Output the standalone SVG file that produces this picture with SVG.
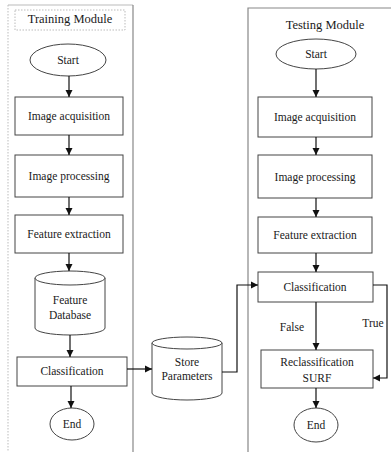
<svg xmlns="http://www.w3.org/2000/svg" width="391" height="452" viewBox="0 0 391 452" font-family="'Liberation Serif', 'Times New Roman', serif">
<defs>
<marker id="ah" markerWidth="8" markerHeight="8" refX="7" refY="4" orient="auto" markerUnits="userSpaceOnUse">
<path d="M0,0.5 L7,4 L0,7.5 Z" fill="#111"/>
</marker>
</defs>
<style>
text{font-family:"Liberation Serif","Times New Roman",serif;font-size:11.5px;fill:#1a1a1a;text-anchor:middle}
.t{font-size:12.5px}
.box{fill:#fff;stroke:#444;stroke-width:1}
.mod{fill:none;stroke:#888;stroke-width:1.2}
.dot{fill:none;stroke:#bbb;stroke-width:1;stroke-dasharray:1.5,1.5}
.c{fill:none;stroke:#111;stroke-width:1.2}
</style>
<rect width="391" height="452" fill="#fff"/>
<g id="training-module">
<line class="dot" x1="8" y1="5" x2="8" y2="452"/>
<line x1="8" y1="5" x2="133" y2="5" stroke="#bbb" stroke-width="1"/>
<line class="mod" x1="133" y1="5" x2="133" y2="452"/>
<rect class="dot" x="15" y="10" width="110" height="20"/>
<text class="t" x="70" y="23">Training Module</text>
</g>
<g id="testing-module">
<path class="mod" d="M248,452 V8 H392"/>
<text class="t" x="325" y="29">Testing Module</text>
</g>
<g id="t-start"><ellipse class="box" cx="68" cy="60" rx="38" ry="16"/><text x="68" y="64">Start</text></g>
<g id="t-acq"><rect class="box" x="15" y="97" width="108" height="38"/><text x="69" y="120">Image acquisition</text></g>
<g id="t-proc"><rect class="box" x="15" y="155" width="108" height="42"/><text x="69" y="180">Image processing</text></g>
<g id="t-feat"><rect class="box" x="15" y="215" width="108" height="38"/><text x="69" y="238">Feature extraction</text></g>
<g id="t-db"><path class="box" d="M35,278 V328 A35,7 0 0 0 105,328 V278"/><ellipse class="box" cx="70" cy="278" rx="35" ry="7"/><text x="70" y="304">Feature</text><text x="70" y="319">Database</text></g>
<g id="t-class"><rect class="box" x="17" y="357" width="110" height="29"/><text x="72" y="375">Classification</text></g>
<g id="t-end"><ellipse class="box" cx="72" cy="424" rx="22" ry="16"/><text x="72" y="428">End</text></g>
<g id="store"><path class="box" d="M152,343 V393 A35,7 0 0 0 222,393 V343"/><ellipse class="box" cx="187" cy="343" rx="35" ry="6"/><text x="187" y="366">Store</text><text x="187" y="380">Parameters</text></g>
<g id="s-start"><ellipse class="box" cx="316" cy="54" rx="40" ry="15"/><text x="316" y="58">Start</text></g>
<g id="s-acq"><rect class="box" x="258" y="97" width="114" height="40"/><text x="315" y="121">Image acquisition</text></g>
<g id="s-proc"><rect class="box" x="258" y="155" width="114" height="43"/><text x="315" y="181">Image processing</text></g>
<g id="s-feat"><rect class="box" x="258" y="217" width="114" height="36"/><text x="315" y="239">Feature extraction</text></g>
<g id="s-class"><rect class="box" x="258" y="272" width="115" height="30"/><text x="315" y="291">Classification</text></g>
<g id="s-recl"><rect class="box" x="261" y="350" width="112" height="38"/><text x="317" y="366">Reclassification</text><text x="317" y="382">SURF</text></g>
<g id="s-end"><ellipse class="box" cx="316" cy="425" rx="22" ry="17"/><text x="316" y="429">End</text></g>
<g id="connectors">
<line class="c" x1="69" y1="76" x2="69" y2="97" marker-end="url(#ah)"/>
<line class="c" x1="69" y1="135" x2="69" y2="155" marker-end="url(#ah)"/>
<line class="c" x1="69" y1="197" x2="69" y2="215" marker-end="url(#ah)"/>
<line class="c" x1="69" y1="253" x2="69" y2="271" marker-end="url(#ah)"/>
<line class="c" x1="70" y1="335" x2="70" y2="357" marker-end="url(#ah)"/>
<line class="c" x1="71" y1="386" x2="71" y2="408" marker-end="url(#ah)"/>
<line class="c" x1="127" y1="369" x2="152" y2="369" marker-end="url(#ah)"/>
<polyline class="c" points="222,372 237,372 237,285 258,285" marker-end="url(#ah)"/>
<line class="c" x1="316" y1="69" x2="316" y2="97" marker-end="url(#ah)"/>
<line class="c" x1="316" y1="137" x2="316" y2="155" marker-end="url(#ah)"/>
<line class="c" x1="316" y1="198" x2="316" y2="217" marker-end="url(#ah)"/>
<line class="c" x1="316" y1="253" x2="316" y2="272" marker-end="url(#ah)"/>
<line class="c" x1="316" y1="302" x2="316" y2="350" marker-end="url(#ah)"/>
<polyline class="c" points="373,285 387,285 387,378 373,378" marker-end="url(#ah)"/>
<line class="c" x1="316" y1="388" x2="316" y2="408" marker-end="url(#ah)"/>
<text x="292" y="331">False</text>
<text x="373" y="327">True</text>
</g>
</svg>
